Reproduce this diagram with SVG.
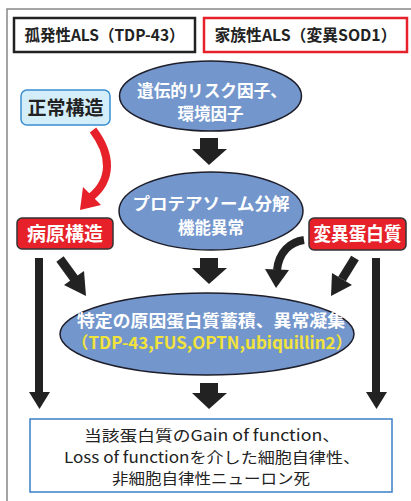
<svg xmlns="http://www.w3.org/2000/svg" width="411" height="501" viewBox="0 0 411 501">
<style>
.jp{font-family:"Noto Sans CJK JP","Noto Sans",sans-serif;}
.b{font-weight:bold;}
.title{font-size:16px;fill:#222;}
.ell{fill:#7396cc;stroke:#1e1e2a;stroke-width:1.5;}
.et{font-size:16.5px;fill:#fff;font-weight:bold;}
.blk{fill:#222;}
.redbox{fill:#e6212a;stroke:#333;stroke-width:1.5;}
.rt{font-size:19px;fill:#fff;font-weight:bold;}
</style>
<g id="frame" fill="none" stroke="#888" stroke-width="1.5">
<path d="M7 501 V9 H411"/>
</g>
<g id="sporadic">
<rect x="14" y="18" width="181" height="34" fill="#fff" stroke="#222" stroke-width="2.5"/>
<text class="jp b title" x="104.5" y="41" text-anchor="middle" textLength="160" lengthAdjust="spacingAndGlyphs">孤発性ALS（TDP-43）</text>
</g>
<g id="familial">
<rect x="204" y="18" width="203" height="34" fill="#fff" stroke="#e6212a" stroke-width="2.5"/>
<text class="jp b title" x="305.5" y="41" text-anchor="middle" textLength="182" lengthAdjust="spacingAndGlyphs">家族性ALS（変異SOD1）</text>
</g>
<g id="risk">
<ellipse class="ell" cx="210.5" cy="96" rx="91" ry="35"/>
<text class="jp et" x="212" y="97" text-anchor="middle" textLength="150" lengthAdjust="spacingAndGlyphs">遺伝的リスク因子、</text>
<text class="jp et" x="210.5" y="120" text-anchor="middle">環境因子</text>
</g>
<g id="normal">
<rect x="21" y="90" width="89" height="35" rx="6" fill="#d4eef9" stroke="#3a8fd0" stroke-width="1.5"/>
<text class="jp b" x="65.5" y="114.5" text-anchor="middle" font-size="19" fill="#222">正常構造</text>
</g>
<g id="proteasome">
<ellipse class="ell" cx="211" cy="211" rx="92" ry="39"/>
<text class="jp et" x="211" y="210" text-anchor="middle" textLength="157" lengthAdjust="spacingAndGlyphs">プロテアソーム分解</text>
<text class="jp et" x="211" y="234" text-anchor="middle">機能異常</text>
</g>
<g id="pathogenic">
<rect class="redbox" x="17" y="218" width="96" height="31" rx="5"/>
<text class="jp rt" x="65" y="241" text-anchor="middle">病原構造</text>
</g>
<g id="mutant">
<rect class="redbox" x="309" y="218" width="97" height="32" rx="5"/>
<text class="jp rt" x="357.5" y="241" text-anchor="middle" font-size="18" textLength="88" lengthAdjust="spacingAndGlyphs">変異蛋白質</text>
</g>
<g id="accumulation">
<ellipse class="ell" cx="207" cy="334" rx="147" ry="41"/>
<text class="jp et" x="211" y="327" text-anchor="middle" textLength="268" lengthAdjust="spacingAndGlyphs">特定の原因蛋白質蓄積、異常凝集</text>
<text class="jp b" x="212" y="349" text-anchor="middle" font-size="16.5" fill="#f2e33a" textLength="281" lengthAdjust="spacingAndGlyphs">（TDP-43,FUS,OPTN,ubiquillin2）</text>
</g>
<g id="outcome">
<rect x="30" y="419" width="362" height="73" fill="#fff" stroke="#3a7fc8" stroke-width="1.5"/>
<text class="jp" x="212" y="441" text-anchor="middle" font-size="15" fill="#222" textLength="256" lengthAdjust="spacingAndGlyphs">当該蛋白質のGain of function、</text>
<text class="jp" x="212" y="463" text-anchor="middle" font-size="15" fill="#222" textLength="296" lengthAdjust="spacingAndGlyphs">Loss of functionを介した細胞自律性、</text>
<text class="jp" x="211" y="484" text-anchor="middle" font-size="15" fill="#222" textLength="198" lengthAdjust="spacingAndGlyphs">非細胞自律性ニューロン死</text>
</g>
<g id="connectors">
<polygon class="blk" points="200,138 218,138 218,149 227,149 209,165 192,149 200,149"/>
<polygon class="blk" points="200,258 218,258 218,268 227,268 209,284 192,268 200,268"/>
<polygon class="blk" points="200,383 218,383 218,393 227,393 209,409 192,393 200,393"/>
<path d="M93 130 C112 155 112 180 91 197" fill="none" stroke="#e6212a" stroke-width="8"/>
<polygon points="101,205 83,187 80,210" fill="#e6212a"/>
<line x1="39" y1="258" x2="39" y2="394" stroke="#222" stroke-width="8"/>
<polygon class="blk" points="29,392 50,392 39.5,409"/>
<line x1="376" y1="258" x2="376" y2="394" stroke="#222" stroke-width="8"/>
<polygon class="blk" points="366,392 387,392 376.5,409"/>
<line x1="60" y1="259" x2="76" y2="281" stroke="#222" stroke-width="9"/>
<polygon class="blk" points="84,271 64,285 86,296"/>
<line x1="355" y1="258" x2="342" y2="279" stroke="#222" stroke-width="9"/>
<polygon class="blk" points="352,285 332,273 331,296"/>
<path d="M304 240 C290 242 279 252 277 270" fill="none" stroke="#222" stroke-width="8"/>
<polygon class="blk" points="265,269 289,270 276,288"/>
</g>
</svg>
